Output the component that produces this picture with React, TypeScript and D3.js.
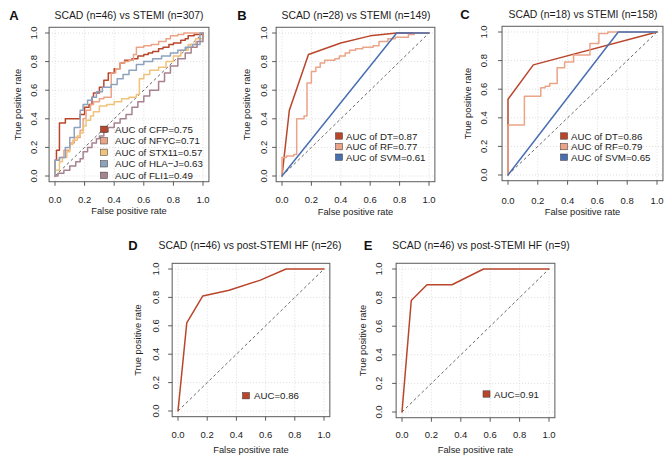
import { useEffect, useRef } from "react";
import * as d3 from "d3";

type Pt = [number, number];

// ROC curves as [false positive rate, true positive rate]
const cfpRoc: Pt[] = [[0,0],[0,0.11],[0.01,0.18],[0.03,0.37],[0.07,0.4],[0.17,0.43],[0.2,0.48],[0.23,0.5],[0.25,0.55],[0.26,0.58],[0.3,0.62],[0.33,0.67],[0.36,0.72],[0.4,0.75],[0.44,0.79],[0.47,0.81],[0.52,0.82],[0.56,0.84],[0.6,0.85],[0.63,0.86],[0.66,0.87],[0.7,0.89],[0.73,0.9],[0.77,0.92],[0.8,0.93],[0.85,0.95],[0.88,0.96],[0.9,0.98],[0.94,0.99],[1,1]];
const nfycRoc: Pt[] = [[0,0],[0,0.11],[0.03,0.13],[0.06,0.18],[0.1,0.23],[0.13,0.27],[0.17,0.32],[0.19,0.4],[0.21,0.46],[0.24,0.5],[0.26,0.52],[0.3,0.54],[0.33,0.55],[0.38,0.72],[0.41,0.75],[0.44,0.79],[0.47,0.8],[0.5,0.81],[0.53,0.85],[0.55,0.9],[0.6,0.91],[0.65,0.92],[0.7,0.94],[0.75,0.96],[0.78,0.98],[0.83,0.99],[0.87,1],[1,1]];
const stx11Roc: Pt[] = [[0,0],[0,0.04],[0.03,0.1],[0.05,0.13],[0.08,0.17],[0.1,0.22],[0.12,0.25],[0.15,0.28],[0.17,0.3],[0.19,0.35],[0.21,0.39],[0.24,0.42],[0.26,0.45],[0.3,0.49],[0.35,0.5],[0.4,0.52],[0.45,0.54],[0.5,0.55],[0.55,0.57],[0.57,0.68],[0.6,0.71],[0.64,0.74],[0.7,0.76],[0.75,0.8],[0.8,0.84],[0.85,0.88],[0.9,0.92],[0.95,0.96],[1,1]];
const hlajRoc: Pt[] = [[0,0],[0,0.11],[0.03,0.13],[0.07,0.2],[0.1,0.27],[0.13,0.34],[0.17,0.46],[0.19,0.5],[0.22,0.53],[0.25,0.55],[0.28,0.59],[0.32,0.62],[0.38,0.64],[0.42,0.68],[0.46,0.71],[0.5,0.74],[0.55,0.78],[0.6,0.8],[0.66,0.82],[0.72,0.84],[0.78,0.86],[0.83,0.88],[0.88,0.9],[0.93,0.92],[0.98,0.93],[0.98,1],[1,1]];
const fli1Roc: Pt[] = [[0,0],[0.02,0.02],[0.06,0.04],[0.1,0.07],[0.14,0.1],[0.17,0.12],[0.19,0.17],[0.22,0.2],[0.25,0.23],[0.28,0.26],[0.3,0.28],[0.33,0.31],[0.36,0.34],[0.4,0.37],[0.44,0.4],[0.48,0.43],[0.52,0.48],[0.56,0.52],[0.6,0.56],[0.64,0.6],[0.7,0.66],[0.74,0.72],[0.78,0.77],[0.83,0.82],[0.88,0.86],[0.92,0.9],[0.96,0.94],[1,1]];

const dtRocB: Pt[] = [[0,0],[0.05,0.46],[0.18,0.85],[0.4,0.93],[0.6,0.98],[0.78,1],[1,1]];
const rfRocB: Pt[] = [[0,0],[0,0.13],[0.03,0.14],[0.08,0.15],[0.1,0.4],[0.15,0.42],[0.17,0.65],[0.2,0.73],[0.23,0.76],[0.26,0.79],[0.29,0.81],[0.36,0.82],[0.39,0.84],[0.43,0.86],[0.46,0.88],[0.5,0.89],[0.55,0.9],[0.62,0.91],[0.66,0.94],[0.72,0.96],[0.77,0.97],[0.86,0.99],[0.9,1],[1,1]];
const svmRocB: Pt[] = [[0,0],[0.78,1],[1,1]];

const dtRocC: Pt[] = [[0,0],[0,0.53],[0.17,0.77],[1,1]];
const rfRocC: Pt[] = [[0,0],[0,0.35],[0.11,0.55],[0.22,0.61],[0.25,0.62],[0.28,0.64],[0.33,0.75],[0.38,0.79],[0.44,0.84],[0.55,0.92],[0.61,0.99],[0.67,1],[1,1]];
const svmRocC: Pt[] = [[0,0],[0.74,1],[1,1]];

const hfRocD: Pt[] = [[0,0],[0.06,0.62],[0.17,0.81],[0.35,0.85],[0.56,0.92],[0.74,1],[1,1]];
const hfRocE: Pt[] = [[0,0],[0.063,0.78],[0.17,0.89],[0.34,0.89],[0.555,1],[1,1]];

const genes = ["CFP", "NFYC", "STX11", "HLA\u2212J", "FLI1"];
const geneAuc = [0.75, 0.71, 0.57, 0.63, 0.49];
const models = ["DT", "RF", "SVM"];
const modelAucB = [0.87, 0.77, 0.61];
const modelAucC = [0.86, 0.79, 0.65];
const hfAuc = [0.86, 0.91];

const ticks = [0, 0.2, 0.4, 0.6, 0.8, 1.0];

const RED = "#b9462b";
const SALMON = "#eba487";
const AMBER = "#f1c27a";
const SLATE = "#8fa2bd";
const MAUVE = "#a7838f";
const BLUE = "#4a6fb1";

type Series = { label: string; color: string; roc: Pt[]; step: boolean };

type Panel = {
  letter: string;
  title: string;
  series: Series[];
  x: [number, number];
  y: [number, number];
  letterAt: [number, number];
  titleAt: [number, number];
  yTitleX: number;
  yTickX: number;
  xTickY: number;
  xTitleY: number;
  legend: { swatchX: number; textX: number; y0: number; dy: number };
};

const fmt = (v: number) => v.toFixed(2);

const panels: Panel[] = [
  {
    letter: "A",
    title: "SCAD (n=46) vs STEMI (n=307)",
    series: [cfpRoc, nfycRoc, stx11Roc, hlajRoc, fli1Roc].map((roc, i) => ({
      label: `AUC of ${genes[i]}=${fmt(geneAuc[i])}`,
      color: [RED, SALMON, AMBER, SLATE, MAUVE][i],
      roc,
      step: true,
    })),
    x: [55, 203], y: [176, 33], letterAt: [14, 15], titleAt: [129, 15],
    yTitleX: 18, yTickX: 33, xTickY: 199, xTitleY: 211,
    legend: { swatchX: 104, textX: 115, y0: 129.3, dy: 11.5 },
  },
  {
    letter: "B",
    title: "SCAD (n=28) vs STEMI (n=149)",
    series: [dtRocB, rfRocB, svmRocB].map((roc, i) => ({
      label: `AUC of ${models[i]}=${fmt(modelAucB[i])}`,
      color: [RED, SALMON, BLUE][i],
      roc,
      step: i === 1,
    })),
    x: [282, 429], y: [176, 33], letterAt: [242, 15], titleAt: [356, 15],
    yTitleX: 247, yTickX: 263, xTickY: 199, xTitleY: 211.5,
    legend: { swatchX: 339, textX: 346, y0: 136, dy: 10.6 },
  },
  {
    letter: "C",
    title: "SCAD (n=18) vs STEMI (n=158)",
    series: [dtRocC, rfRocC, svmRocC].map((roc, i) => ({
      label: `AUC of ${models[i]}=${fmt(modelAucC[i])}`,
      color: [RED, SALMON, BLUE][i],
      roc,
      step: i === 1,
    })),
    x: [508, 657], y: [175, 32], letterAt: [465, 14], titleAt: [583, 14],
    yTitleX: 468, yTickX: 483, xTickY: 200, xTitleY: 212,
    legend: { swatchX: 564, textX: 571, y0: 136, dy: 10.6 },
  },
  {
    letter: "D",
    title: "SCAD (n=46) vs post-STEMI HF (n=26)",
    series: [{ label: `AUC=${fmt(hfAuc[0])}`, color: RED, roc: hfRocD, step: false }],
    x: [178, 324], y: [411, 269], letterAt: [133, 245], titleAt: [250, 245],
    yTitleX: 138, yTickX: 155, xTickY: 434, xTitleY: 450,
    legend: { swatchX: 246, textX: 254, y0: 395.7, dy: 10.6 },
  },
  {
    letter: "E",
    title: "SCAD (n=46) vs post-STEMI HF (n=9)",
    series: [{ label: `AUC=${fmt(hfAuc[1])}`, color: RED, roc: hfRocE, step: false }],
    x: [402, 549], y: [412, 269], letterAt: [368, 245], titleAt: [481, 245],
    yTitleX: 363, yTickX: 378, xTickY: 434, xTitleY: 449.5,
    legend: { swatchX: 486.5, textX: 494, y0: 394, dy: 10.6 },
  },
];

const FONT = "'Liberation Sans', Arial, Helvetica, sans-serif";
const INK = "#1c1c1c";

export default function App() {
  const svgRef = useRef<SVGSVGElement>(null);

  useEffect(() => {
    if (!svgRef.current) return;
    const svg = d3.select(svgRef.current);
    svg.selectAll("*").remove();

    panels.forEach((p) => {
      const x = d3.scaleLinear().domain([0, 1]).range(p.x);
      const y = d3.scaleLinear().domain([0, 1]).range(p.y);
      const g = svg.append("g").attr("font-family", FONT);

      // R-style 4% padding around the unit square
      const bx0 = x(-0.04), bx1 = x(1.04);
      const by0 = y(1.04), by1 = y(-0.04);

      // dotted grid at the tick positions
      const grid = g.append("g")
        .attr("stroke", "#d4d4d4")
        .attr("stroke-width", 0.8)
        .attr("stroke-dasharray", "1,2");
      grid.append("g").selectAll("line").data(ticks).join("line")
        .attr("x1", (d) => x(d)).attr("x2", (d) => x(d))
        .attr("y1", by0).attr("y2", by1);
      grid.append("g").selectAll("line").data(ticks).join("line")
        .attr("y1", (d) => y(d)).attr("y2", (d) => y(d))
        .attr("x1", bx0).attr("x2", bx1);

      // chance line
      g.append("line")
        .attr("x1", x(0)).attr("y1", y(0)).attr("x2", x(1)).attr("y2", y(1))
        .attr("stroke", "#444").attr("stroke-width", 0.8)
        .attr("stroke-dasharray", "3,2.5");

      p.series.forEach((s) => {
        const line = d3.line<Pt>()
          .x((d) => x(d[0]))
          .y((d) => y(d[1]))
          .curve(s.step ? d3.curveStepAfter : d3.curveLinear);
        g.append("path")
          .attr("d", line(s.roc))
          .attr("fill", "none")
          .attr("stroke", s.color)
          .attr("stroke-width", 1.5)
          .attr("stroke-linejoin", "round")
          .attr("stroke-linecap", "round");
      });

      g.append("rect")
        .attr("x", bx0).attr("y", by0)
        .attr("width", bx1 - bx0).attr("height", by1 - by0)
        .attr("fill", "none").attr("stroke", "#5a5a5a").attr("stroke-width", 1);

      // ticks and labels
      g.append("g").selectAll("line").data(ticks).join("line")
        .attr("x1", (d) => x(d)).attr("x2", (d) => x(d))
        .attr("y1", by1).attr("y2", by1 + 4)
        .attr("stroke", "#5a5a5a");
      g.append("g").selectAll("line").data(ticks).join("line")
        .attr("y1", (d) => y(d)).attr("y2", (d) => y(d))
        .attr("x1", bx0).attr("x2", bx0 - 4)
        .attr("stroke", "#5a5a5a");

      g.append("g").selectAll("text").data(ticks).join("text")
        .attr("x", (d) => x(d)).attr("y", p.xTickY)
        .attr("text-anchor", "middle").attr("dominant-baseline", "central")
        .attr("font-size", 9.5).attr("fill", INK)
        .text((d) => d.toFixed(1));
      g.append("g").selectAll("text").data(ticks).join("text")
        .attr("transform", (d) => `translate(${p.yTickX},${y(d)}) rotate(-90)`)
        .attr("text-anchor", "middle").attr("dominant-baseline", "central")
        .attr("font-size", 9.5).attr("fill", INK)
        .text((d) => d.toFixed(1));

      g.append("text")
        .attr("x", (p.x[0] + p.x[1]) / 2).attr("y", p.xTitleY)
        .attr("text-anchor", "middle").attr("dominant-baseline", "central")
        .attr("font-size", 9.3).attr("fill", INK)
        .text("False positive rate");
      g.append("text")
        .attr("transform", `translate(${p.yTitleX},${(p.y[0] + p.y[1]) / 2}) rotate(-90)`)
        .attr("text-anchor", "middle").attr("dominant-baseline", "central")
        .attr("font-size", 9.3).attr("fill", INK)
        .text("True positive rate");

      g.append("text")
        .attr("x", p.titleAt[0]).attr("y", p.titleAt[1])
        .attr("text-anchor", "middle").attr("dominant-baseline", "central")
        .attr("font-size", 10.4).attr("fill", INK)
        .text(p.title);
      g.append("text")
        .attr("x", p.letterAt[0]).attr("y", p.letterAt[1])
        .attr("text-anchor", "middle").attr("dominant-baseline", "central")
        .attr("font-size", 13).attr("font-weight", "bold").attr("fill", "#111")
        .text(p.letter);

      // legend
      const rows = g.append("g").selectAll("g").data(p.series).join("g")
        .attr("transform", (_, i) => `translate(0,${p.legend.y0 + i * p.legend.dy})`);
      rows.append("rect")
        .attr("x", p.legend.swatchX - 3.5).attr("y", -3.2)
        .attr("width", 7).attr("height", 6.4)
        .attr("fill", (d) => d.color)
        .attr("stroke", "#333").attr("stroke-width", 0.5);
      rows.append("text")
        .attr("x", p.legend.textX).attr("y", 0)
        .attr("dominant-baseline", "central")
        .attr("font-size", 9.7).attr("fill", INK)
        .text((d) => d.label);
    });
  }, []);

  return (
    <svg
      ref={svgRef}
      width={666}
      height={460}
      style={{ position: "absolute", left: 0, top: 0, background: "#fff" }}
    />
  );
}
